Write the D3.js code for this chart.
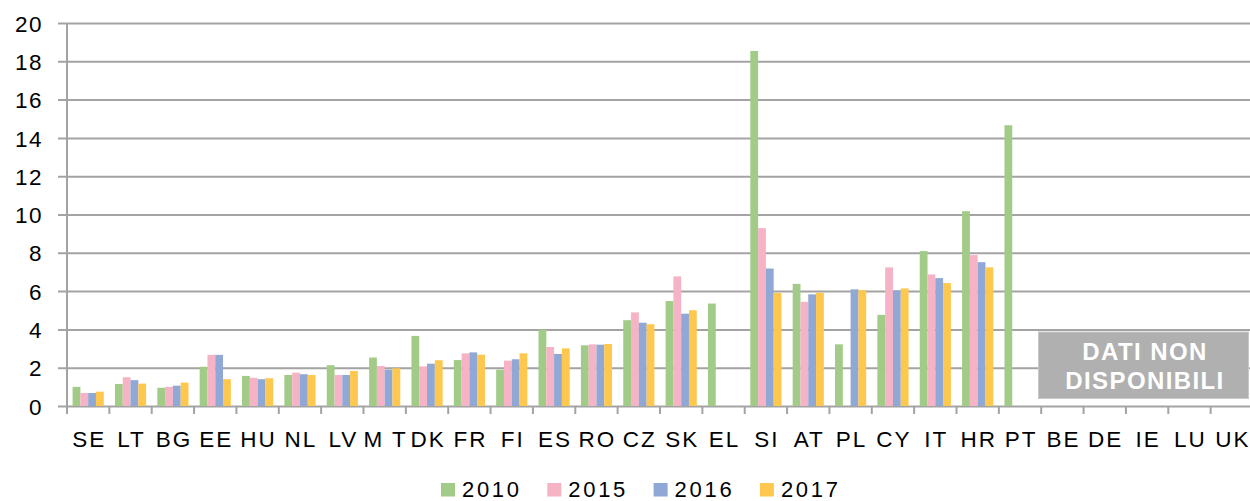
<!DOCTYPE html>
<html>
<head>
<meta charset="utf-8">
<script src="https://cdn.jsdelivr.net/npm/d3@7"></script>
<style>
  body { margin: 0; background: #fff; }
  svg { display: block; font-family: 'Liberation Sans', Arial, sans-serif; }
</style>
</head>
<body>
<svg class="chart" width="1250" height="501"></svg>
<script>
const countries = ['SE', 'LT', 'BG', 'EE', 'HU', 'NL', 'LV', 'MT', 'DK', 'FR', 'FI', 'ES', 'RO', 'CZ',
    'SK', 'EL', 'SI', 'AT', 'PL', 'CY', 'IT', 'HR', 'PT', 'BE', 'DE', 'IE', 'LU', 'UK'];
const labels = ['SE', 'LT', 'BG', 'EE', 'HU', 'NL', 'LV', 'M T', 'DK', 'FR', 'FI', 'ES', 'RO', 'CZ',
    'SK', 'EL', 'SI', 'AT', 'PL', 'CY', 'IT', 'HR', 'PT', 'BE', 'DE', 'IE', 'LU', 'UK'];
const years = ['2010', '2015', '2016', '2017'];

const v2010 = [1.0, 1.15, 0.95, 2.05, 1.57, 1.62, 2.13, 2.53, 3.66, 2.4, 1.9, 3.99, 3.17, 4.48,
    5.48, 5.35, 18.54, 6.38, 3.22, 4.76, 8.09, 10.17, 14.66, null, null, null, null, null];
const v2015 = [0.68, 1.5, 1.0, 2.67, 1.47, 1.74, 1.62, 2.09, 2.07, 2.75, 2.37, 3.08, 3.22, 4.89,
    6.77, null, 9.29, 5.44, null, 7.24, 6.87, 7.88, null, null, null, null, null, null];
const v2016 = [0.68, 1.35, 1.06, 2.67, 1.4, 1.66, 1.62, 1.9, 2.21, 2.8, 2.44, 2.72, 3.2, 4.35,
    4.82, null, 7.18, 5.83, 6.09, 6.04, 6.68, 7.51, null, null, null, null, null, null];
const v2017 = [0.75, 1.17, 1.22, 1.4, 1.45, 1.62, 1.83, 1.97, 2.39, 2.68, 2.75, 3.01, 3.24, 4.27,
    5.0, null, 5.9, 5.91, 6.05, 6.14, 6.42, 7.24, null, null, null, null, null, null];

const yTicks = [0, 2, 4, 6, 8, 10, 12, 14, 16, 18, 20];
const colors = ['#a1cb87', '#f5b3c5', '#8fa8d5', '#fec84e'];

const series = [v2010, v2015, v2016, v2017];
const data = countries.map((c, i) => {
    const row = { country: c };
    years.forEach((y, j) => { row[y] = series[j][i]; });
    return row;
});

const svg = d3.select('.chart');
const margin = { top: 23, left: 67, bottom: 95 };
const height = +svg.attr('height');

const x0 = d3.scaleBand()
    .domain(countries)
    .range([margin.left, 1253]);

const x1 = d3.scaleBand()
    .domain(years)
    .range([5.6, x0.bandwidth() - 5.6]);

const y = d3.scaleLinear()
    .domain([0, 20])
    .range([height - margin.bottom, margin.top]);

const color = d3.scaleOrdinal().domain(years).range(colors);

// gridlines + y axis
const yAxis = svg.append('g')
    .attr('transform', `translate(${margin.left},0)`)
    .call(d3.axisLeft(y)
        .tickValues(yTicks)
        .tickSize(9)
        .tickPadding(15));
yAxis.select('.domain').remove();
yAxis.selectAll('.tick line')
    .attr('x1', 1250 - margin.left)
    .attr('stroke', '#a3a3a3')
    .attr('stroke-width', 2);
yAxis.selectAll('.tick text')
    .attr('fill', '#000')
    .style('font-size', '22.5px')
    .style('letter-spacing', '1.5px')
    .attr('dy', '0.36em');

svg.append('line')
    .attr('x1', margin.left).attr('x2', margin.left)
    .attr('y1', y(20)).attr('y2', y(0))
    .attr('stroke', '#a3a3a3')
    .attr('stroke-width', 2);

// x axis ticks at band edges
svg.append('g')
    .selectAll('line')
    .data(countries)
    .join('line')
    .attr('x1', d => x0(d)).attr('x2', d => x0(d))
    .attr('y1', y(0)).attr('y2', y(0) + 8)
    .attr('stroke', '#a3a3a3')
    .attr('stroke-width', 2);

svg.append('g')
    .selectAll('text')
    .data(countries)
    .join('text')
    .attr('x', d => x0(d) + x0.bandwidth() / 2 + 1)
    .attr('y', y(0) + 41)
    .attr('text-anchor', 'middle')
    .style('font-size', '22.5px')
    .style('letter-spacing', '2px')
    .text((d, i) => labels[i]);

// bars
svg.append('g')
    .selectAll('g')
    .data(data)
    .join('g')
    .attr('transform', d => `translate(${x0(d.country)},0)`)
    .selectAll('rect')
    .data(d => years.map(key => ({ key, value: d[key] })).filter(d => d.value != null))
    .join('rect')
    .attr('x', d => x1(d.key))
    .attr('y', d => y(d.value))
    .attr('width', x1.bandwidth())
    .attr('height', d => y(0) - y(d.value))
    .attr('fill', d => color(d.key));

// "no data" box
const box = svg.append('g');
box.append('rect')
    .attr('x', 1038.5).attr('y', 332)
    .attr('width', 210).attr('height', 66.5)
    .attr('fill', '#b0b0b0')
    .attr('stroke', '#c8c8c8')
    .attr('stroke-width', 1);
box.selectAll('text')
    .data(['DATI NON', 'DISPONIBILI'])
    .join('text')
    .attr('x', 1145)
    .attr('y', (d, i) => 360 + i * 29)
    .attr('text-anchor', 'middle')
    .attr('fill', '#fff')
    .style('font-size', '24px')
    .style('font-weight', 'bold')
    .style('letter-spacing', '1.4px')
    .text(d => d);

// legend
const legend = svg.append('g')
    .selectAll('g')
    .data(years)
    .join('g')
    .attr('transform', (d, i) => `translate(${441 + i * 106.3},483)`);
legend.append('rect')
    .attr('width', 14).attr('height', 13.5)
    .attr('fill', d => color(d));
legend.append('text')
    .attr('x', 21)
    .attr('y', 14)
    .style('font-size', '22px')
    .style('letter-spacing', '2.7px')
    .text(d => d);
</script>
</body>
</html>
